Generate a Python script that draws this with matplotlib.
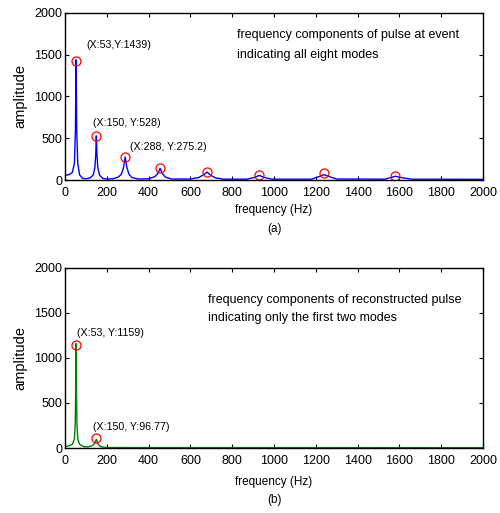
import matplotlib
matplotlib.use("Agg")
import matplotlib.pyplot as plt

plt.rcParams['font.family'] = ['Liberation Sans', 'DejaVu Sans']

# (a) spectrum of the pulse at event, vertices
freq_a = [0, 20, 35, 45, 50, 53, 56, 61, 70, 85, 100, 120, 135, 143, 147, 150,
          153, 157, 165, 180, 200, 230, 255, 270, 280, 288, 296, 306, 320, 350,
          400, 430, 445, 455, 465, 480, 510, 600, 640, 665, 680, 695, 720, 760,
          870, 905, 930, 955, 990, 1180, 1215, 1240, 1265, 1300, 1530, 1560,
          1580, 1610, 1660, 2000]
amp_a = [55, 65, 90, 200, 600, 1439, 600, 200, 60, 20, 15, 25, 60, 150, 300, 528,
         300, 150, 60, 20, 12, 15, 35, 70, 150, 275.2, 150, 70, 30, 12,
         15, 40, 80, 140, 80, 35, 12, 12, 30, 65, 95, 60, 25, 10,
         10, 30, 55, 30, 10, 10, 40, 65, 40, 12, 10, 30,
         45, 28, 10, 8]
mode_f_a = [53, 150, 288, 455, 680, 930, 1240, 1580]
mode_y_a = [1420, 528, 275.2, 140, 100, 65, 80, 45]

# (b) spectrum of the reconstructed pulse
freq_b = [0, 20, 35, 45, 49, 51, 53, 55, 57, 61, 70, 90, 110, 130, 142, 150,
          158, 170, 200, 2000]
amp_b = [15, 25, 40, 100, 280, 600, 1159, 600, 280, 100, 40, 15, 12, 25, 50,
         96.77, 45, 15, 5, 3]
mode_f_b = [53, 150]
mode_y_b = [1140, 111]

xticks = list(range(0, 2001, 200))
yticks = list(range(0, 2001, 500))

fig = plt.figure(figsize=(5.0, 5.13), dpi=100)
ax1 = fig.add_axes([0.13, 0.6491, 0.836, 0.3256])
ax2 = fig.add_axes([0.13, 0.1267, 0.836, 0.3509])


def style(ax):
    ax.set_xlim(0, 2000)
    ax.set_ylim(0, 2000)
    ax.set_xticks(xticks)
    ax.set_yticks(yticks)
    ax.tick_params(direction='in', top=True, right=True, length=3,
                   labelsize=9)
    ax.tick_params(axis='x', pad=5)
    ax.tick_params(axis='y', pad=2)
    for s in ax.spines.values():
        s.set_linewidth(1.0)
    ax.set_ylabel('amplitude', fontsize=10.5, labelpad=5)


ax1.plot(freq_a, amp_a, color='#0000ff', lw=1.0)
ax1.plot(mode_f_a, mode_y_a, 'o', ms=6.5, mfc='none', mec='red', mew=0.9)
style(ax1)
ax1.text(100, 1617, '(X:53,Y:1439)', fontsize=7.7, va='center')
ax1.text(134, 683, '(X:150, Y:528)', fontsize=7.7, va='center')
ax1.text(311, 395, '(X:288, Y:275.2)', fontsize=7.7, va='center')
ax1.text(823, 1737, 'frequency components of pulse at event', fontsize=9, va='center')
ax1.text(823, 1497, 'indicating all eight modes', fontsize=9, va='center')

ax2.plot(freq_b, amp_b, color='#008000', lw=1.0)
ax2.plot(mode_f_b, mode_y_b, 'o', ms=6.5, mfc='none', mec='red', mew=0.9)
style(ax2)
ax2.text(57, 1278, '(X:53, Y:1159)', fontsize=7.7, va='center')
ax2.text(134, 233, '(X:150, Y:96.77)', fontsize=7.7, va='center')
ax2.text(684, 1644, 'frequency components of reconstructed pulse', fontsize=9, va='center')
ax2.text(684, 1444, 'indicating only the first two modes', fontsize=9, va='center')

fig.text(0.548, 1 - 210 / 513, 'frequency (Hz)', fontsize=8.5, ha='center', va='center')
fig.text(0.548, 1 - 229 / 513, '(a)', fontsize=8.5, ha='center', va='center')
fig.text(0.548, 1 - 482 / 513, 'frequency (Hz)', fontsize=8.5, ha='center', va='center')
fig.text(0.548, 1 - 500 / 513, '(b)', fontsize=8.5, ha='center', va='center')

fig.savefig('out.png', dpi=100)
